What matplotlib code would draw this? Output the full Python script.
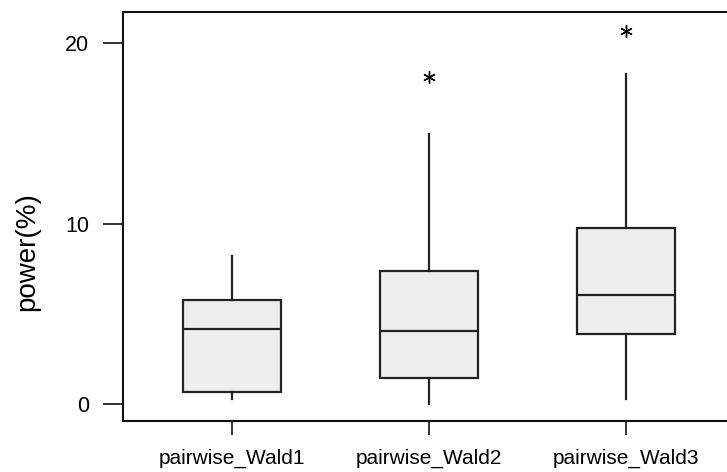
import matplotlib
matplotlib.use("Agg")
import matplotlib.pyplot as plt

plt.rcParams["font.family"] = ["Liberation Sans", "DejaVu Sans"]

# power (%) summary per test
labels = ["pairwise_Wald1", "pairwise_Wald2", "pairwise_Wald3"]
whisker_low = [0.28, 0.0, 0.26]
q1 = [0.67, 1.46, 3.87]
medians = [4.18, 4.05, 6.03]
q3 = [5.77, 7.36, 9.78]
whisker_high = [8.22, 14.97, 18.30]
outliers = [[], [18.15], [20.7]]

stats = []
for i, name in enumerate(labels):
    stats.append({
        "label": name,
        "whislo": whisker_low[i],
        "q1": q1[i],
        "med": medians[i],
        "q3": q3[i],
        "whishi": whisker_high[i],
        "fliers": outliers[i],
    })

fig = plt.figure(figsize=(7.27, 4.72), dpi=100)
ax = fig.add_axes([123 / 727, 1 - 421 / 472, 1 - 123 / 727, (421 - 12) / 472])

ax.bxp(
    stats,
    positions=[1, 2, 3],
    widths=0.5,
    patch_artist=True,
    showcaps=False,
    boxprops=dict(facecolor="#eeeeee", edgecolor="#222222", linewidth=1.6),
    medianprops=dict(color="#222222", linewidth=1.6),
    whiskerprops=dict(color="#222222", linewidth=1.6),
    flierprops=dict(marker=(6, 2, 0), markersize=9, markeredgecolor="black",
                    markeredgewidth=1.0, linestyle="none"),
)

ax.set_xlim(0.447, 3.513)
ax.set_ylim(-0.94, 21.74)
ax.set_yticks([0, 10, 20])
ax.set_xticks([1, 2, 3])
ax.set_xticklabels(labels)

ax.spines["right"].set_visible(False)
for side in ["left", "top", "bottom"]:
    ax.spines[side].set_linewidth(1.5)
    ax.spines[side].set_color("#111111")

ax.tick_params(axis="y", length=14.5, width=1.2, pad=10, labelsize=15.5, color="#111111")
ax.tick_params(axis="x", length=10, width=1.2, pad=10, labelsize=15, color="#111111")

# axis title sits a little below the middle of the plot region
fig.text(27 / 727, 1 - 252 / 472, "power(%)", fontsize=20, rotation=90,
         ha="center", va="center")

fig.savefig("out.png", dpi=100)
